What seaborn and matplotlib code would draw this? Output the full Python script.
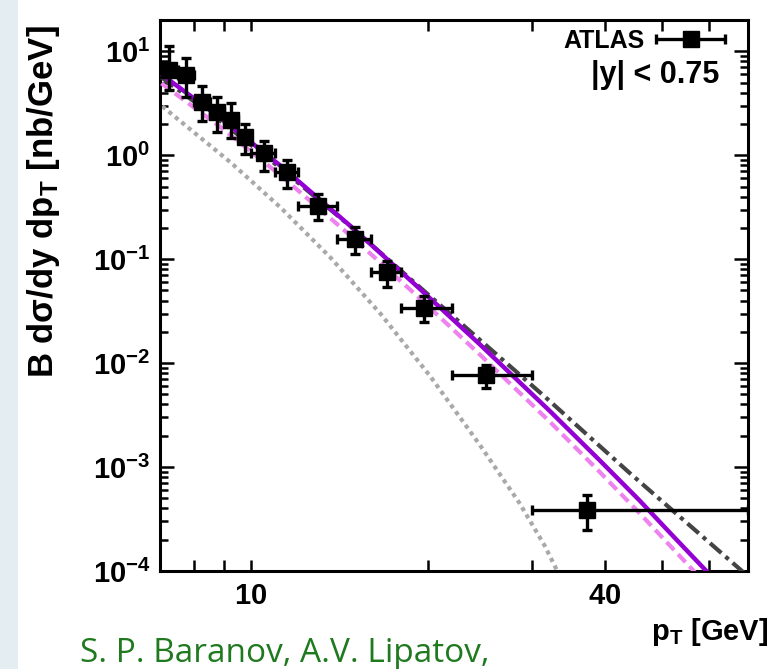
import numpy as np
import matplotlib
matplotlib.use("Agg")
import matplotlib.pyplot as plt
import seaborn as sns
from matplotlib.ticker import FixedLocator, NullFormatter, FuncFormatter
from matplotlib.patches import Rectangle
from matplotlib.legend_handler import HandlerErrorbar
from matplotlib.container import ErrorbarContainer

# ---------------- data ----------------
pt_lo = [7.0, 7.5, 8.0, 8.5, 9.0, 9.5, 10.0, 11.0, 12.0, 14.0, 16.0, 18.0, 22.0, 30.0]
pt_hi = [7.5, 8.0, 8.5, 9.0, 9.5, 10.0, 11.0, 12.0, 14.0, 16.0, 18.0, 22.0, 30.0, 70.0]
pt = [7.25, 7.75, 8.25, 8.75, 9.25, 9.75, 10.5, 11.5, 13.0, 15.0, 17.0, 19.7, 25.1, 37.3]
sig = [6.57, 5.88, 3.23, 2.59, 2.17, 1.49, 1.06, 0.69, 0.323, 0.157, 0.0758, 0.0342, 0.00767, 3.86e-4]
sig_up = [11.3, 8.64, 4.68, 3.6, 3.15, 2.0, 1.37, 0.895, 0.42, 0.204, 0.096, 0.0438, 0.00966, 5.38e-4]
sig_dn = [4.26, 3.6, 2.16, 1.66, 1.48, 1.03, 0.71, 0.486, 0.24, 0.112, 0.0542, 0.0249, 0.00575, 2.48e-4]

# theory curves
solid_pt = [7.04, 8.90, 11.24, 14.77, 19.17, 24.5, 32.2, 39.1, 45.7, 52.4, 59.6]
solid_y = [6.01, 2.249, 0.787, 0.2077, 0.0546, 0.01513, 3.47e-3, 1.172e-3, 4.82e-4, 2.12e-4, 9.87e-5]

dashed_pt = [7.04, 8.90, 11.24, 14.77, 19.17, 24.5, 32.2, 39.1, 45.7, 56.2, 57.7]
dashed_y = [4.92, 1.843, 0.6364, 0.1679, 0.04418, 0.01208, 2.738e-3, 9.06e-4, 3.64e-4, 1.045e-4, 8.85e-5]

dashdot_pt = [7.04, 8.90, 11.24, 14.77, 19.93, 31.8, 43.95, 70.0]
dashdot_y = [5.62, 2.104, 0.7465, 0.2063, 0.0466, 4.6e-3, 8.86e-4, 8.9e-5]

dotted_pt = [7.06, 9.25, 11.24, 13.66, 16.6, 20.16, 24.5, 28.6, 31.56, 33.2]
dotted_y = [2.96, 0.845, 0.312, 0.1031, 0.02985, 7.5e-3, 1.63e-3, 4.51e-4, 1.76e-4, 9.9e-5]

x_major = [10, 40]
x_minor = [8, 9, 20, 30, 50, 60]

# ---------------- style ----------------
sns.set_theme(style="ticks")
plt.rcParams["font.family"] = ["Liberation Sans", "DejaVu Sans"]
plt.rcParams["font.weight"] = "bold"
plt.rcParams["text.color"] = "black"
plt.rcParams["mathtext.fontset"] = "custom"
plt.rcParams["mathtext.rm"] = "Liberation Sans:bold"
plt.rcParams["mathtext.bf"] = "Liberation Sans:bold"
plt.rcParams["mathtext.it"] = "Liberation Sans:bold"
plt.rcParams["mathtext.sf"] = "Liberation Sans:bold"

fig, ax = plt.subplots(figsize=(7.7, 6.69), dpi=100)
fig.subplots_adjust(left=0.2078, right=0.9714, bottom=0.1465, top=0.970)

# light slide background strip at the left edge
fig.patches.append(Rectangle((0, 0), 0.024, 1, transform=fig.transFigure,
                             facecolor="#e4eef2", edgecolor="none", zorder=-10))

ax.set_xscale("log")
ax.set_yscale("log")

sns.lineplot(x=dotted_pt, y=dotted_y, ax=ax, color="#a9a9a9", lw=3.0,
             linestyle=(0, (1.0, 1.0)), zorder=2)
sns.lineplot(x=dashdot_pt, y=dashdot_y, ax=ax, color="#444444", lw=3.0,
             linestyle=(0, (3.6, 1.3, 1.0, 1.3)), zorder=3)
sns.lineplot(x=dashed_pt, y=dashed_y, ax=ax, color="#ee82ee", lw=3.0,
             linestyle=(0, (2.6, 1.4)), zorder=4)
sns.lineplot(x=solid_pt, y=solid_y, ax=ax, color="#9400d3", lw=3.2, zorder=5)

pt_a = np.array(pt); s_a = np.array(sig)
xerr = [pt_a - np.array(pt_lo), np.array(pt_hi) - pt_a]
yerr = [s_a - np.array(sig_dn), np.array(sig_up) - s_a]
ax.errorbar(pt, sig, xerr=xerr, yerr=yerr, fmt="s", color="black", ms=11,
            elinewidth=2.4, capsize=3.8, capthick=2.4, zorder=10)

ax.set_xlim(7, 70)
ax.set_ylim(1e-4, 20)

# ticks
ax.xaxis.set_major_locator(FixedLocator(x_major))
ax.xaxis.set_minor_locator(FixedLocator(x_minor))
ax.xaxis.set_major_formatter(FuncFormatter(lambda v, p: r"$%d$" % round(v)))
ax.xaxis.set_minor_formatter(NullFormatter())
ax.yaxis.set_major_locator(FixedLocator([1e-4, 1e-3, 1e-2, 1e-1, 1, 10]))
ax.yaxis.set_minor_locator(FixedLocator([m * 10.0 ** e for e in range(-4, 2) for m in range(2, 10)]))
ax.yaxis.set_major_formatter(FuncFormatter(lambda v, p: r"$10^{%d}$" % round(np.log10(v))))
ax.yaxis.set_minor_formatter(NullFormatter())

ax.tick_params(which="both", direction="in", top=True, right=True, width=1.8,
               color="black", labelsize=21, labelcolor="black")
ax.tick_params(axis="y", which="major", length=10, pad=7)
ax.tick_params(axis="y", which="minor", length=6)
ax.tick_params(axis="x", which="both", length=8, pad=8)
for s in ax.spines.values():
    s.set_linewidth(2.2)
    s.set_color("black")

# legend
h = ax.errorbar([np.nan], [np.nan], xerr=[[1.0], [1.0]], fmt="s", color="black",
                ms=11, elinewidth=2.4, capsize=3.8, capthick=2.4)
leg = ax.legend([h], ["ATLAS"], loc="upper right", bbox_to_anchor=(0.962, 0.984),
                frameon=False, markerfirst=False, handlelength=2.8, handletextpad=0.45,
                borderpad=0.0, borderaxespad=0.0,
                handler_map={ErrorbarContainer: HandlerErrorbar(xerr_size=1.38)},
                prop={"family": "Liberation Sans", "weight": "bold", "size": 18})
for t in leg.get_texts():
    t.set_color("black")
ax.text(0.952, 0.900, "|y| < 0.75", transform=ax.transAxes, ha="right", va="center",
        fontsize=22, fontweight="bold", color="black")

# axis labels
ax.set_ylabel(r"B dσ/dy dp$_{\mathrm{T}}$ [nb/GeV]", fontsize=25, fontweight="bold",
              color="black", va="center")
ax.yaxis.set_label_coords(-0.198, 0.67)
ax.set_xlabel(r"p$_{\mathrm{T}}$ [GeV]", fontsize=21, fontweight="bold", color="black",
              va="center", ha="center")
ax.xaxis.set_label_coords(0.935, -0.111)

fig.text(80 / 770, 7 / 669, "S. P. Baranov, A.V. Lipatov,", color="#1f7a1f",
         fontsize=24, fontweight="normal", family=["Open Sans", "DejaVu Sans"],
         ha="left", va="baseline")

fig.savefig("out.png", dpi=100, facecolor="white")
